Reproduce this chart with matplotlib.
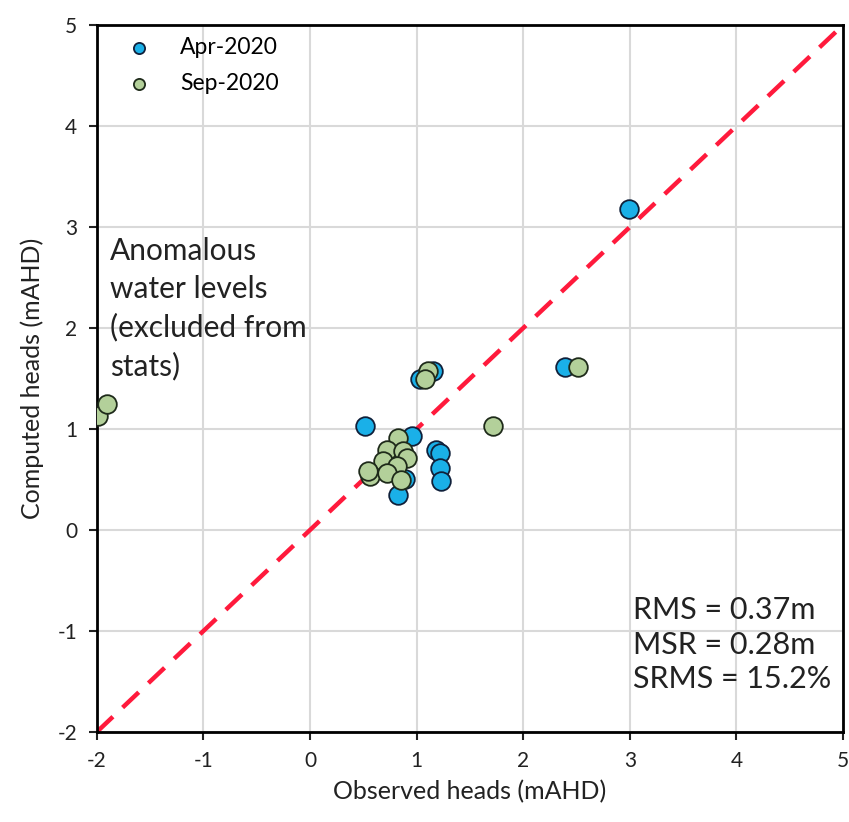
import matplotlib
matplotlib.use("Agg")
from matplotlib import pyplot as plt

plt.rcParams['font.family'] = ['Lato', 'DejaVu Sans']
plt.rcParams['axes.unicode_minus'] = False

# Apr-2020 observed / computed heads (mAHD)
apr_obs = [2.99, 2.39, 1.03, 1.15, 0.52, 0.96, 1.18, 1.22, 1.22, 1.23, 0.89, 0.83]
apr_comp = [3.18, 1.61, 1.50, 1.57, 1.03, 0.93, 0.79, 0.76, 0.61, 0.49, 0.51, 0.35]

# Sep-2020 observed / computed heads (mAHD)
sep_obs = [-1.99, -1.90, 2.51, 1.11, 1.08, 1.72, 0.83, 0.72, 0.87, 0.91,
           0.68, 0.82, 0.56, 0.54, 0.72, 0.85]
sep_comp = [1.13, 1.25, 1.61, 1.57, 1.50, 1.03, 0.91, 0.79, 0.78, 0.71,
            0.68, 0.63, 0.53, 0.58, 0.56, 0.50]

ticks = [-2, -1, 0, 1, 2, 3, 4, 5]
stats_lines = ["RMS = 0.37m", "MSR = 0.28m", "SRMS = 15.2%"]

fig = plt.figure(figsize=(8.49, 8.22), dpi=100)
ax = fig.add_axes([0.114, 0.1095, 0.879, 0.860])

# 1:1 line
ax.plot([-2, 5], [-2, 5], color='#ff1a3c', linestyle=(0, (5, 3)), linewidth=3.2, zorder=2)

ax.scatter(apr_obs, apr_comp, s=180, color='#1ab0e8', edgecolor='#10203a', linewidth=1.3,
           zorder=3, label='Apr-2020')
ax.scatter(sep_obs, sep_comp, s=180, color='#b3d09a', edgecolor='#1e2a1a', linewidth=1.3,
           zorder=4, label='Sep-2020')

ax.set_xlim(-2, 5)
ax.set_ylim(-2, 5)
ax.set_xticks(ticks)
ax.set_yticks(ticks)
ax.tick_params(direction='out', length=6, width=1.5, labelsize=15, pad=8, colors='#222222')
ax.grid(True, color='#d9d9d9', linewidth=1.5, zorder=0)
ax.set_axisbelow(True)
for sp in ax.spines.values():
    sp.set_linewidth(2)
    sp.set_color('black')

ax.set_xlabel('Observed heads (mAHD)', fontsize=18, color='#222222', labelpad=6)
ax.set_ylabel('Computed heads (mAHD)', fontsize=18, color='#222222', labelpad=10)

leg = ax.legend(loc='upper left', bbox_to_anchor=(0.007, 1.002), frameon=False, fontsize=16.5,
                markerscale=0.6, handletextpad=0.8, borderaxespad=0.0, labelspacing=0.65,
                borderpad=0.6)

ax.text(-1.88, 2.90, 'Anomalous\nwater levels\n(excluded from\nstats)', fontsize=21.5,
        color='#222222', ha='left', va='top', linespacing=1.42)

ax.text(3.03, -0.65, '\n'.join(stats_lines), fontsize=22, color='#222222',
        ha='left', va='top', linespacing=1.3)

plt.savefig('out.png', dpi=100, facecolor='white')
plt.close(fig)
